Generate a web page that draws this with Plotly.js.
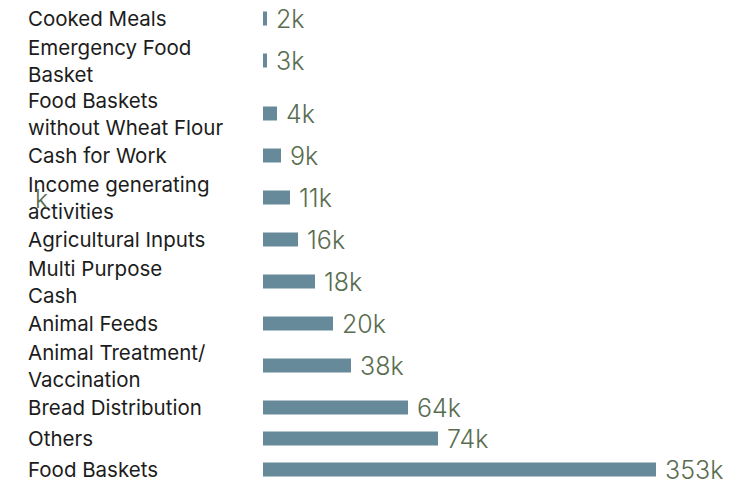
<!DOCTYPE html>
<html>
<head>
<meta charset="utf-8">
<script src="https://cdn.plot.ly/plotly-3.0.1.min.js"></script>
<style>
  html, body { margin: 0; padding: 0; background: #ffffff; }
  #chart { width: 746px; height: 480px; }
</style>
</head>
<body>
<div id="chart"></div>
<script>
// ---- data ----
const categories = [
  "Cooked Meals",
  "Emergency Food<br>Basket",
  "Food Baskets<br>without Wheat Flour",
  "Cash for Work",
  "Income generating<br>activities",
  "Agricultural Inputs",
  "Multi Purpose<br>Cash",
  "Animal Feeds",
  "Animal Treatment/<br>Vaccination",
  "Bread Distribution",
  "Others",
  "Food Baskets"
];
const valueLabels = ["2k", "3k", "4k", "9k", "11k", "16k", "18k", "20k", "38k", "64k", "74k", "353k"];
// drawn bar lengths as they appear (relative units)
const barValues = [4, 4, 14, 18, 27, 35, 52, 70, 88, 145, 175, 393];

// ---- layout rule: each row's height depends on its number of label lines ----
const LINE_H = 22, ROW_PAD = 9, TOP = 3;
const rowCenters = [];
let cursor = TOP;
categories.forEach(c => {
  const h = ROW_PAD + LINE_H * c.split("<br>").length;
  rowCenters.push(cursor + h / 2);
  cursor += h;
});

const barColor = "#678a9a";
const valueColor = "#596d50";
const labelFont = { family: "Inter, Open Sans, sans-serif", size: 20.5, color: "#1c1c1c" };
const valueFont = { family: "Inter, Open Sans, sans-serif", size: 25, weight: 300, color: valueColor };

const trace = {
  type: "bar",
  orientation: "h",
  x: barValues,
  y: rowCenters,
  width: 14,
  marker: { color: barColor },
  hoverinfo: "skip"
};

const annotations = [];
categories.forEach((c, i) => {
  annotations.push({
    xref: "paper", yref: "y",
    x: -237 / 483, y: rowCenters[i],
    xanchor: "left", yanchor: "middle", align: "left",
    text: c, showarrow: false, font: labelFont
  });
  annotations.push({
    xref: "x", yref: "y",
    x: barValues[i], y: rowCenters[i],
    xanchor: "left", yanchor: "middle", xshift: 7,
    text: valueLabels[i], showarrow: false, font: valueFont
  });
});
// stray "k" glyph seen over the "Income generating activities" label
annotations.push({
  xref: "paper", yref: "y",
  x: -230 / 483, y: rowCenters[4],
  xanchor: "left", yanchor: "middle", yshift: -1,
  text: "k", showarrow: false, font: valueFont
});

const layout = {
  width: 746, height: 480,
  margin: { l: 263, r: 0, t: 0, b: 0, pad: 0 },
  paper_bgcolor: "#ffffff", plot_bgcolor: "#ffffff",
  showlegend: false,
  xaxis: { range: [0, 483], visible: false, fixedrange: true },
  yaxis: { range: [480, 0], visible: false, fixedrange: true },
  annotations: annotations
};

Plotly.newPlot("chart", [trace], layout, { displayModeBar: false, staticPlot: true });
</script>
</body>
</html>
